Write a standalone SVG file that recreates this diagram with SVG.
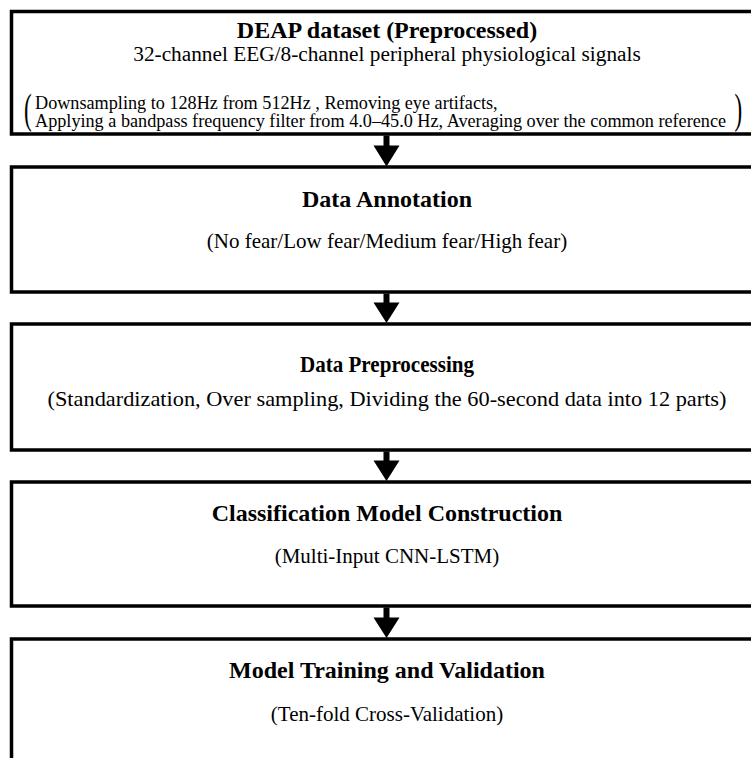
<svg xmlns="http://www.w3.org/2000/svg" width="751" height="758" viewBox="0 0 751 758">
<style>
.box{fill:#fff;stroke:#000;stroke-width:3.5}
.t{font-family:"Liberation Serif","Times New Roman",serif;font-weight:bold;font-size:24px;text-anchor:middle;fill:#000}
.s{font-family:"Liberation Serif","Times New Roman",serif;font-size:21px;text-anchor:middle;fill:#000}
.n{font-family:"Liberation Serif","Times New Roman",serif;font-size:18.2px;fill:#000}
.p{font-family:"Liberation Serif","Times New Roman",serif;font-size:42px;fill:#000}
.arr{fill:#000}
</style>
<rect width="751" height="758" fill="#fff"/>
<g id="n1">
<rect class="box" x="11.5" y="11.5" width="760" height="122.5"/>
<text class="t" x="387" y="38">DEAP dataset (Preprocessed)</text>
<text class="s" x="387" y="61" style="font-size:21.3px">32-channel EEG/8-channel peripheral physiological signals</text>
<text class="p" transform="translate(24,123) scale(0.55,1)">(</text>
<text class="n" x="35" y="108.5">Downsampling to 128Hz from 512Hz , Removing eye artifacts,</text>
<text class="n" x="35" y="127">Applying a bandpass frequency filter from 4.0–45.0 Hz, Averaging over the common reference</text>
<text class="p" transform="translate(734.5,123) scale(0.55,1)">)</text>
</g>
<g id="n2">
<rect class="box" x="11.5" y="167" width="760" height="125"/>
<text class="t" x="387" y="207">Data Annotation</text>
<text class="s" x="387" y="248">(No fear/Low fear/Medium fear/High fear)</text>
</g>
<g id="n3">
<rect class="box" x="11.5" y="324" width="760" height="126"/>
<text class="t" x="387" y="372" style="font-size:23px" textLength="174" lengthAdjust="spacingAndGlyphs">Data Preprocessing</text>
<text class="s" x="387" y="406" style="font-size:22px" textLength="679" lengthAdjust="spacingAndGlyphs">(Standardization, Over sampling, Dividing the 60-second data into 12 parts)</text>
</g>
<g id="n4">
<rect class="box" x="11.5" y="482" width="760" height="124"/>
<text class="t" x="387" y="521">Classification Model Construction</text>
<text class="s" x="387" y="563">(Multi-Input CNN-LSTM)</text>
</g>
<g id="n5">
<rect class="box" x="11.5" y="639" width="760" height="140"/>
<text class="t" x="387" y="678">Model Training and Validation</text>
<text class="s" x="387" y="721">(Ten-fold Cross-Validation)</text>
</g>
<g id="connectors">
<path class="arr" d="M383.5 135.5h6v10h10l-13 21l-13 -21h10z"/>
<path class="arr" d="M383.5 293.5h6v9h10l-13 20.5l-13 -20.5h10z"/>
<path class="arr" d="M383.5 451.5h6v9h10l-13 20.5l-13 -20.5h10z"/>
<path class="arr" d="M383.5 607.5h6v10h10l-13 20.5l-13 -20.5h10z"/>
</g>
</svg>
